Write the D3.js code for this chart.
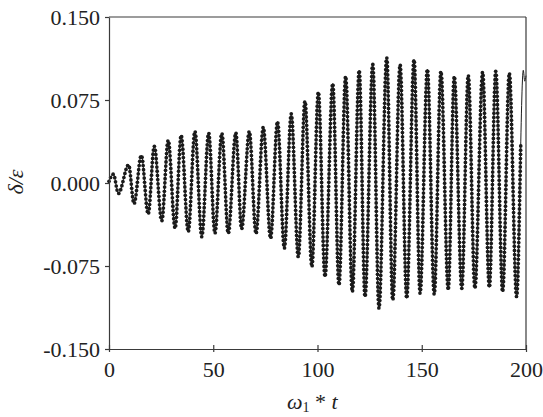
<!DOCTYPE html>
<html>
<head>
<meta charset="utf-8">
<script src="https://cdn.jsdelivr.net/npm/d3@7"></script>
<style>
  html, body { margin: 0; padding: 0; background: #fff; }
  svg { display: block; }
  text { font-family: "Liberation Serif", "Times New Roman", serif; fill: #222; }
</style>
</head>
<body>
<svg id="chart" width="543" height="417"></svg>
<script>
// ---- data (successive extrema of the response) ----
const extremeT = [0, 2.1, 4.5, 9.4, 12.0, 15.5, 18.8, 21.7, 25.3, 28.4, 31.7, 34.6, 38.0, 41.2, 44.5,
  47.8, 50.8, 54.1, 57.2, 60.8, 63.6, 67.3, 70.5, 74.0, 77.5, 80.8, 84.1, 87.4, 90.8, 94.0, 97.3,
  100.4, 103.6, 107.3, 110.3, 113.5, 116.7, 120.0, 122.8, 126.5, 129.5, 133.2, 136.1, 139.6, 142.8,
  146.3, 149.2, 152.7, 156.0, 159.2, 162.7, 165.6, 169.2, 172.3, 175.5, 179.2, 182.4, 185.5, 188.8,
  192.0, 195.5, 198.7, 199.4, 200];
const extremeV = [0.0015, 0.008, -0.0095, 0.0165, -0.0188, 0.025, -0.0281, 0.0333, -0.0342, 0.0387,
  -0.041, 0.0432, -0.0441, 0.0468, -0.0486, 0.0452, -0.0455, 0.045, -0.0455, 0.0455, -0.0415, 0.0467,
  -0.0458, 0.0504, -0.050, 0.0556, -0.059, 0.0625, -0.0667, 0.0739, -0.0757, 0.0823, -0.0847, 0.0899,
  -0.0922, 0.0965, -0.0983, 0.1019, -0.1028, 0.1073, -0.1133, 0.1133, -0.1058, 0.107, -0.1042, 0.1115,
  -0.0997, 0.1028, -0.1006, 0.101, -0.0967, 0.0965, -0.0952, 0.0974, -0.0952, 0.1003, -0.0943, 0.101,
  -0.0983, 0.0994, -0.1028, 0.1019, 0.092, 0.097];
const dotsEndT = 197.5;           // markers stop here, the line continues
const xTicks = [0, 50, 100, 150, 200];
const xTickLabels = ["0", "50", "100", "150", "200"];
const yTicks = [-0.15, -0.075, 0, 0.075, 0.15];
const yTickLabels = ["-0.150", "-0.075", "0.000", "0.075", "0.150"];

// ---- layout ----
const L = 109, R = 526, T = 17, B = 349;
const svg = d3.select("#chart");
const x = d3.scaleLinear().domain([0, 200]).range([L, R]);
const y = d3.scaleLinear().domain([-0.15, 0.15]).range([B, T]);
const axisColor = "#3a3a3a";

const data = extremeT.map((t, i) => ({ t, v: extremeV[i] }));

// line
const line = d3.line().x(d => x(d.t)).y(d => y(d.v)).curve(d3.curveMonotoneX);
const path = svg.append("path").datum(data)
  .attr("d", line).attr("fill", "none").attr("stroke", "#1e1e1e").attr("stroke-width", 1);

// markers placed along the drawn curve
const node = path.node();
const total = node.getTotalLength();
const step = 4.2;
const xEnd = x(dotsEndT);
const pts = [];
for (let s = 0; s <= total; s += step) {
  const p = node.getPointAtLength(s);
  if (p.x > xEnd) break;
  pts.push(p);
}
svg.append("g").selectAll("circle").data(pts).join("circle")
  .attr("cx", d => d.x).attr("cy", d => d.y).attr("r", 1.85).attr("fill", "#1a1a1a");

// axes
const xAxis = d3.axisBottom(x).tickValues(xTicks).tickFormat((d, i) => xTickLabels[i])
  .tickSizeInner(-4).tickSizeOuter(0).tickPadding(12);
const gx = svg.append("g").attr("transform", `translate(0,${B})`).call(xAxis);
gx.selectAll(".tick line").attr("y1", 3);
const yAxis = d3.axisLeft(y).tickValues(yTicks).tickFormat((d, i) => yTickLabels[i])
  .tickSizeInner(4).tickSizeOuter(0).tickPadding(5);
const gy = svg.append("g").attr("transform", `translate(${L},0)`).call(yAxis);

[gx, gy].forEach(g => {
  g.select(".domain").attr("stroke", axisColor).attr("stroke-width", 1.2);
  g.selectAll(".tick line").attr("stroke", axisColor).attr("stroke-width", 1.2);
  g.selectAll(".tick text").attr("font-family", "Liberation Serif").attr("font-size", 22).attr("fill", "#222");
});
gy.selectAll(".tick text").attr("dy", "0.34em");

// frame top and right
svg.append("line").attr("x1", L).attr("x2", R).attr("y1", T).attr("y2", T)
  .attr("stroke", axisColor).attr("stroke-width", 1.2);
svg.append("line").attr("x1", R).attr("x2", R).attr("y1", T).attr("y2", B)
  .attr("stroke", axisColor).attr("stroke-width", 1.2);

// axis titles
const xt = svg.append("text").attr("x", 287).attr("y", 409).attr("font-size", 22);
xt.append("tspan").attr("font-style", "italic").text("ω");
xt.append("tspan").attr("font-size", 14).attr("dy", 3).text("1");
xt.append("tspan").attr("dy", -3).text(" * ");
xt.append("tspan").attr("font-style", "italic").text("t");

svg.append("text").attr("transform", "translate(23,182) rotate(-90)")
  .attr("text-anchor", "middle").attr("font-size", 22).attr("font-style", "italic").text("δ/ε");
</script>
</body>
</html>
